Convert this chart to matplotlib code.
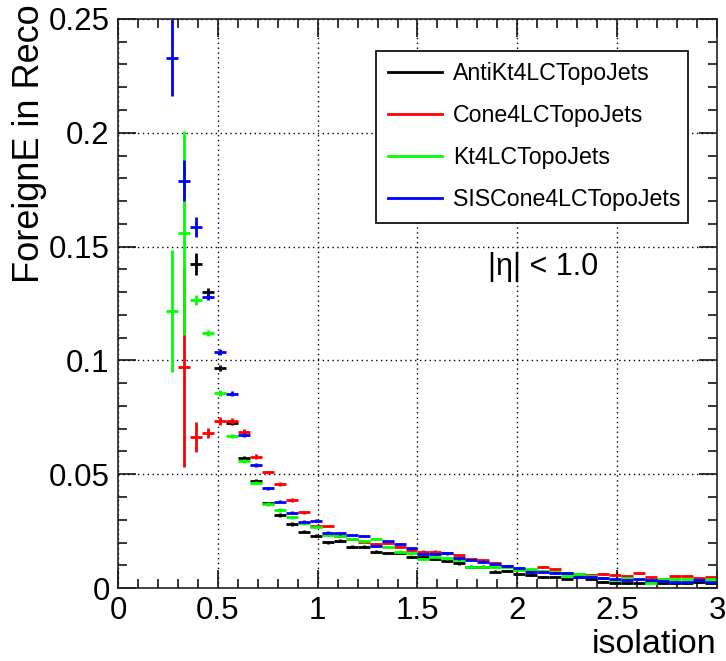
import numpy as np
import matplotlib.pyplot as plt
from matplotlib.lines import Line2D

plt.rcParams['font.family'] = ['Liberation Sans', 'DejaVu Sans']

nan = np.nan

# binning: 50 bins over [0, 3], first filled bin is bin 4
edges = np.linspace(0, 3, 51)
first_bin = 4

labels = ["AntiKt4LCTopoJets", "Cone4LCTopoJets", "Kt4LCTopoJets", "SISCone4LCTopoJets"]
colors = ["#000000", "#ff0000", "#00ff00", "#0000ff"]

# bins 4..11
black_head = [nan, nan, 0.1424, 0.130, 0.0967, 0.0725, 0.0571, 0.0470]
red_head = [nan, 0.097, 0.0664, 0.068, 0.0734, 0.0734, 0.0686, 0.0577]
green_head = [0.1217, 0.156, 0.1265, 0.112, 0.0857, 0.0668, 0.0558, 0.0463]
blue_head = [0.233, 0.179, 0.1586, 0.128, 0.1037, 0.0853, 0.0672, 0.0540]

# bins 12..49
black_tail = [0.0372, 0.0321, 0.0281, 0.0247, 0.0230, 0.0201, 0.0208, 0.0181, 0.0181, 0.0160,
              0.0155, 0.0155, 0.0135, 0.0135, 0.0126, 0.0118, 0.0108, 0.0094, 0.0094, 0.0072,
              0.0075, 0.0062, 0.0057, 0.0050, 0.0050, 0.0038, 0.0050, 0.0038, 0.0028, 0.0023,
              0.0021, 0.0021, 0.0025, 0.0021, 0.0021, 0.0021, 0.0025, 0.0021]
red_tail = [0.0508, 0.0457, 0.0387, 0.0333, 0.0272, 0.0272, 0.0230, 0.0215, 0.0204, 0.0195,
            0.0199, 0.0180, 0.0168, 0.0160, 0.0160, 0.0155, 0.0145, 0.0128, 0.0123, 0.0110,
            0.0095, 0.0085, 0.0078, 0.0094, 0.0082, 0.0068, 0.0062, 0.0058, 0.0060, 0.0058,
            0.0054, 0.0064, 0.0047, 0.0040, 0.0054, 0.0054, 0.0042, 0.0047]
green_tail = [0.0369, 0.0343, 0.0311, 0.0285, 0.0269, 0.0235, 0.0228, 0.0215, 0.0205, 0.0214,
              0.0181, 0.0160, 0.0152, 0.0126, 0.0135, 0.0130, 0.0125, 0.0094, 0.0094, 0.0094,
              0.0094, 0.0080, 0.0083, 0.0075, 0.0072, 0.0055, 0.0060, 0.0052, 0.0042, 0.0035,
              0.0045, 0.0038, 0.0023, 0.0040, 0.0038, 0.0038, 0.0035, 0.0038]
blue_tail = [0.0438, 0.0379, 0.0331, 0.0291, 0.0296, 0.0243, 0.0240, 0.0233, 0.0228, 0.0185,
             0.0208, 0.0192, 0.0174, 0.0149, 0.0149, 0.0152, 0.0130, 0.0123, 0.0116, 0.0105,
             0.0097, 0.0087, 0.0072, 0.0072, 0.0067, 0.0064, 0.0050, 0.0050, 0.0043, 0.0040,
             0.0035, 0.0038, 0.0035, 0.0033, 0.0025, 0.0025, 0.0035, 0.0025]

# statistical errors
black_err_head = [nan, nan, 0.0047, 0.0016, 0.0012, 0.0010, 0.0009, 0.0008]
red_err_head = [nan, 0.044, 0.0066, 0.0022, 0.0016, 0.0014, 0.0012, 0.0010]
green_err_head = [0.027, 0.045, 0.0022, 0.0014, 0.0012, 0.0010, 0.0009, 0.0008]
blue_err_head = [0.017, 0.009, 0.0045, 0.0016, 0.0012, 0.0011, 0.0010, 0.0009]
tail_err = [0.0008, 0.0007, 0.0007, 0.0007, 0.0006, 0.0006, 0.0006, 0.0006, 0.0006, 0.0005,
            0.0005, 0.0005, 0.0005, 0.0005, 0.0005, 0.0005, 0.0005, 0.0005, 0.0005, 0.0005,
            0.0004, 0.0004, 0.0004, 0.0004, 0.0004, 0.0004, 0.0004, 0.0004, 0.0004, 0.0004,
            0.0003, 0.0003, 0.0003, 0.0003, 0.0003, 0.0003, 0.0003, 0.0003]

xticks = [0, 0.5, 1, 1.5, 2, 2.5, 3]
xticklabels = ["0", "0.5", "1", "1.5", "2", "2.5", "3"]
yticks = [0, 0.05, 0.1, 0.15, 0.2, 0.25]
yticklabels = ["0", "0.05", "0.1", "0.15", "0.2", "0.25"]


def draw_hist(ax, values, errors, color):
    centers = 0.5 * (edges[:-1] + edges[1:])
    x = centers[first_bin:first_bin + len(values)]
    halfw = 0.5 * (edges[1] - edges[0])
    ax.errorbar(x, values, xerr=halfw, yerr=errors, fmt='none',
                ecolor=color, elinewidth=2.0, capsize=0)


fig = plt.figure(figsize=(7.26, 6.61), dpi=100)
ax = fig.add_axes([0.1625, 0.1104, 0.8251, 0.8609])

series = [
    (black_head + black_tail, black_err_head + tail_err),
    (red_head + red_tail, red_err_head + tail_err),
    (green_head + green_tail, green_err_head + tail_err),
    (blue_head + blue_tail, blue_err_head + tail_err),
]
for (vals, errs), c in zip(series, colors):
    draw_hist(ax, vals, errs, c)

ax.set_xlim(0, 3)
ax.set_ylim(0, 0.25)
ax.set_xticks(xticks)
ax.set_xticklabels(xticklabels)
ax.set_yticks(yticks)
ax.set_yticklabels(yticklabels)
ax.set_xticks(np.arange(0, 3.001, 0.1), minor=True)
ax.set_yticks(np.arange(0, 0.2501, 0.01), minor=True)
ax.tick_params(which='both', direction='in', top=True, right=True,
               labelsize=22.5, width=1.1, color='black')
ax.tick_params(which='major', length=13, pad=6)
ax.tick_params(which='minor', length=6.5)
for sp in ax.spines.values():
    sp.set_linewidth(1.2)
    sp.set_color('#222222')

ax.grid(True, which='major', color='black', linestyle=(0, (1, 2.5)), linewidth=1.0)
ax.set_axisbelow(True)

ax.set_xlabel('isolation', fontsize=24.5, ha='right')
ax.xaxis.set_label_coords(1.0, -0.072)
ax.set_ylabel('ForeignE in Reco', fontsize=26, ha='right', va='center')
ax.yaxis.set_label_coords(-0.148, 1.025)

ax.text(0.618, 0.55, '|η| < 1.0', transform=ax.transAxes, fontsize=22,
        ha='left', va='baseline')

handles = [Line2D([], [], color=c, lw=2.0) for c in colors]
leg = ax.legend(handles, labels, loc='upper left',
                bbox_to_anchor=(0.431, 0.652, 0.521, 0.292), mode='expand',
                fontsize=16.7, frameon=True, fancybox=False, framealpha=1,
                edgecolor='black', borderaxespad=0, handlelength=2.35,
                handletextpad=0.45, labelspacing=0.82, borderpad=0.5)
leg.get_frame().set_linewidth(1.2)

fig.savefig('out.png', dpi=100)
